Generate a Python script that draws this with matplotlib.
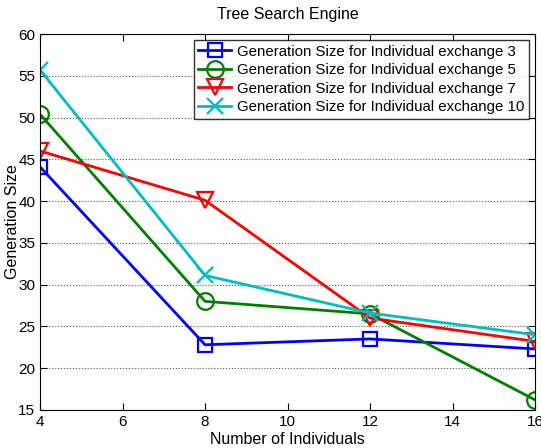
import matplotlib
matplotlib.use('Agg')
import matplotlib.pyplot as plt

individuals = [4, 8, 12, 16]
gen_x3 = [44.1, 22.8, 23.5, 22.3]
gen_x5 = [50.4, 28.0, 26.5, 16.2]
gen_x7 = [46.0, 40.1, 26.0, 23.2]
gen_x10 = [55.7, 31.1, 26.6, 24.0]

plt.rcParams['font.family'] = ['Liberation Sans', 'DejaVu Sans']

fig = plt.figure(figsize=(5.41, 4.48), dpi=100)
ax = fig.add_axes([0.074, 0.085, 0.915, 0.839])

ax.plot(individuals, gen_x3, 'bs-', lw=2, ms=10, mfc='none', mew=1.6,
        label='Generation Size for Individual exchange 3')
ax.plot(individuals, gen_x5, 'o-', color='#008000', lw=2, ms=12, mfc='none', mew=1.6,
        label='Generation Size for Individual exchange 5')
ax.plot(individuals, gen_x7, 'rv-', lw=2, ms=12, mfc='none', mew=1.6,
        label='Generation Size for Individual exchange 7')
ax.plot(individuals, gen_x10, 'x-', color='#00bfbf', lw=2, ms=11, mew=1.6,
        label='Generation Size for Individual exchange 10')

ax.set_xlim(4, 16)
ax.set_ylim(15, 60)
ax.set_xticks(range(4, 17, 2))
ax.set_yticks(range(15, 61, 5))
ax.tick_params(direction='in', top=True, right=True, labelsize=11, length=5)
ax.yaxis.grid(True, linestyle=':', color='#555555', lw=0.8)
ax.set_axisbelow(True)

ax.set_title('Tree Search Engine', fontsize=11.5, pad=11)
ax.set_xlabel('Number of Individuals', fontsize=11.5, labelpad=2)
ax.set_ylabel('Generation Size', fontsize=11.5, labelpad=-1)

leg = ax.legend(loc='upper right', fontsize=10.8, fancybox=False, edgecolor='black',
                handlelength=2.2, borderpad=0.3, labelspacing=0.3, handletextpad=0.4,
                borderaxespad=0.4)
leg.get_frame().set_linewidth(1.0)

fig.savefig('out.png', dpi=100)
